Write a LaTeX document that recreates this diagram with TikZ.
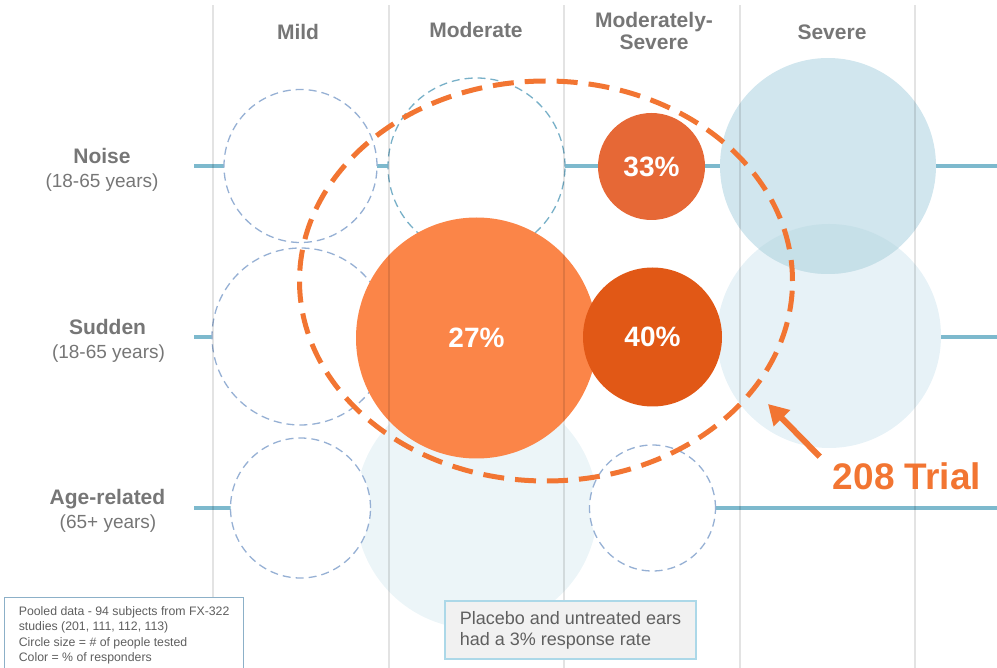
\documentclass[tikz,border=0pt]{standalone}
\usepackage{fontspec}
\setmainfont{Liberation Sans}
\usepackage{tikz}
\usetikzlibrary{arrows.meta,shapes}
\definecolor{txtgray}{RGB}{118,118,118}
\definecolor{boxtxt}{RGB}{95,95,95}
\definecolor{rowblue}{RGB}{125,185,205}
\definecolor{ringblue}{RGB}{150,176,212}
\definecolor{ringteal}{RGB}{120,176,200}
\definecolor{iceA}{RGB}{209,230,238}
\definecolor{iceAB}{RGB}{198,224,232}
\definecolor{iceB}{RGB}{231,242,247}
\definecolor{iceC}{RGB}{236,245,248}
\definecolor{orLight}{RGB}{251,133,72}
\definecolor{orMid}{RGB}{230,104,54}
\definecolor{orDark}{RGB}{225,88,22}
\definecolor{trialorange}{RGB}{242,117,50}
\definecolor{poolborder}{RGB}{140,176,200}
\definecolor{placeborder}{RGB}{172,216,232}
\definecolor{placefill}{RGB}{241,241,241}

\begin{document}
\begin{tikzpicture}[x=1pt,y=-1pt,
  hd/.style={inner sep=0pt,text=txtgray,font=\fontsize{21}{22}\selectfont\bfseries},
  rw/.style={inner sep=0pt,text=txtgray,font=\fontsize{19}{20}\selectfont},
  ring/.style={circle,draw=ringblue,line width=1.3pt,dash pattern=on 8pt off 5pt,
    fill=white,inner sep=0pt,outer sep=0pt,minimum size=#1},
  ice/.style={circle,inner sep=0pt,outer sep=0pt,minimum size=#1},
  blob/.style={circle,inner sep=0pt,outer sep=0pt,minimum size=#1,text=white,
    font=\fontsize{28}{28}\selectfont\bfseries}]

  \useasboundingbox (0,0) rectangle (997,668);

  %% rows
  \foreach \y in {166,337,508}
    \draw[rowblue, line width=4.5pt] (194,\y) -- (997,\y);

  %% column heads
  \node[hd] (hmild) at (298,32) {Mild};
  \node[hd] (hmod) at (476,30) {Moderate};
  \node[hd, align=center] (hmodsev) at (654,31) {Moderately-\\Severe};
  \node[hd] (hsev) at (832,32) {Severe};

  %% row heads
  \node[hd] (noise) at (102,155.5) {Noise};
  \node[rw] (noiseage) at (102,182.5) {(18-65 years)};
  \node[hd] (sudden) at (107.5,326.5) {Sudden};
  \node[rw] (suddenage) at (108.5,354) {(18-65 years)};
  \node[hd] (agerel) at (107.5,499.5) {Age-related};
  \node[rw] (ageage) at (108,524) {(65+ years)};

  %% pale circles
  \node[ice=224pt, fill=iceB] (suddensev) at (829,336) {};
  \node[ice=216pt, fill=iceA] (noisesev) at (828,166) {};
  \begin{scope}
    \clip (828,166) circle [radius=108pt];
    \fill[iceAB] (829,336) circle [radius=112pt]; %% overlap
  \end{scope}
  \node[ice=242pt, fill=iceC] (agemod) at (476.5,508) {};

  %% empty circles
  \node[ring=153pt] (noisemild) at (300.5,166) {};
  \node[ring=177pt, draw=ringteal] (noisemod) at (476.5,166.5) {};
  \node[ring=177pt] (suddenmild) at (300.5,336.5) {};
  \node[ring=140pt] (agemild) at (300.5,508) {};
  \node[ring=126pt] (agemodsev) at (652.5,508) {};

  %% responders
  \node[blob=241pt, fill=orLight] (suddenmod) at (476.5,338) {27\%};
  \node[blob=107pt, fill=orMid] (noisemodsev) at (651.5,166.5) {33\%};
  \node[blob=139pt, fill=orDark] (suddenmodsev) at (652.5,337) {40\%};

  %% grid, faint over the circles
  \foreach \x in {213,389,564,740,915}
    \draw[black, opacity=0.11, line width=1.2pt] (\x,5) -- (\x,668);

  %% trial
  \draw[trialorange, line width=5pt, dash pattern=on 21pt off 11pt]
    (546,281) ellipse [x radius=246.5pt, y radius=200pt];
  \node[inner sep=0pt, text=trialorange, font=\fontsize{37}{37}\selectfont\bfseries]
    (trial) at (907,476.5) {208 Trial};
  \coordinate (tip) at (768,404);
  \draw[trialorange, line width=6pt, -{Triangle[length=20pt,width=22pt]}]
    ([shift={(-13,-6)}]trial.north west) -- (tip);

  %% notes
  \node[draw=poolborder, line width=1.2pt, fill=white, anchor=north west,
    minimum width=239pt, align=left, inner xsep=11pt, inner ysep=9pt, text=boxtxt,
    font=\fontsize{12.3}{15.3}\selectfont] (pooled) at (4,597)
    {Pooled data - 94 subjects from FX-322\\studies (201, 111, 112, 113)\\
     Circle size = \# of people tested\\Color = \% of responders};
  \node[draw=placeborder, line width=1.4pt, fill=placefill, minimum width=251pt,
    minimum height=58pt, align=left, text=boxtxt,
    font=\fontsize{18}{21}\selectfont] (placebo) at (570.5,630)
    {Placebo and untreated ears\\had a 3\% response rate};
\end{tikzpicture}
\end{document}
